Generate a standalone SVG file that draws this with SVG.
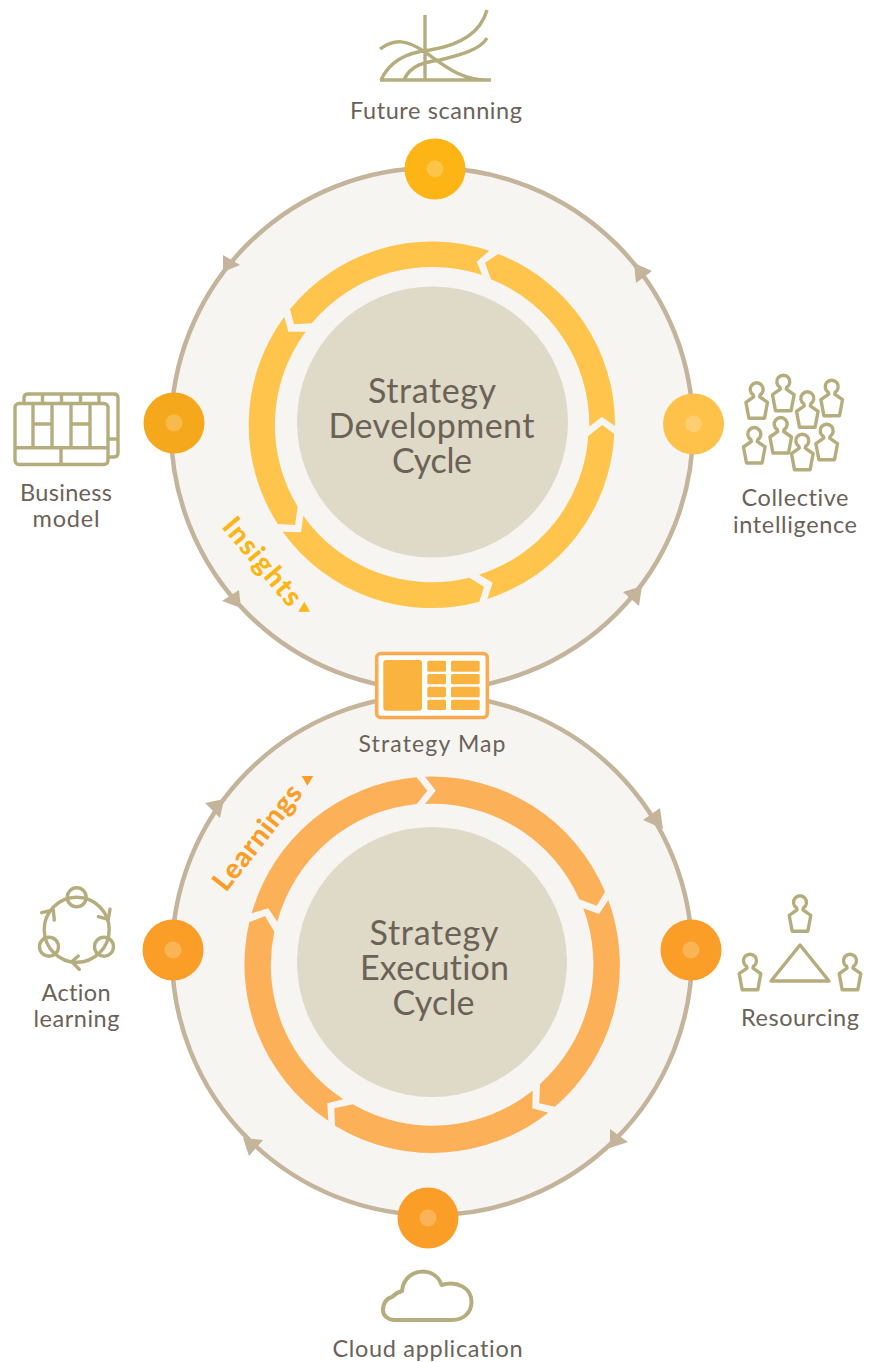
<svg xmlns="http://www.w3.org/2000/svg" width="869" height="1362" viewBox="0 0 869 1362">
<style>
text{font-family:"Lato","Open Sans","Liberation Sans",sans-serif;fill:#6b6257;text-anchor:middle;font-variant-ligatures:none}
.lbl{font-size:23.5px}
.ttl{font-size:34px}
.tag{font-size:28px;font-weight:900;text-anchor:start}
.disc{fill:#f6f5f2;stroke:#c4b49c;stroke-width:4.5}
.hub{fill:#dfd9c7}
.a{fill:#c4b49c}
.sd{fill:#fec44b}
.se{fill:#fcb057}
.dot{fill:#fff;opacity:.22}
.ic{fill:none;stroke:#b5ad7d;stroke-width:3.4;stroke-linejoin:round}
.cell{fill:#fbb33f}
</style>
<defs>
<path id="person" d="M-3.5 5.5A6.5 6.5 0 1 1 3.5 5.5L3 7.5L10.8 13L7.8 29H-7.8L-10.8 13L-3 7.500Z"/>
</defs>
<g id="cycle-discs">
<circle class="disc" cx="432" cy="429" r="261"/>
<circle class="disc" cx="432" cy="955" r="260"/>
</g>
<g id="connectors">
<polygon class="a" points="223,272 223,255 240,265"/>
<polygon class="a" points="241,608 222,601 239,590"/>
<polygon class="a" points="642,586 623,592 639,606"/>
<polygon class="a" points="634,263 652,271 636,283"/>
<polygon class="a" points="224,799 205,803 220,818"/>
<polygon class="a" points="663,829 643,820 660,808"/>
<polygon class="a" points="610,1148 610,1129 628,1142"/>
<polygon class="a" points="243,1138 263,1140 249,1156"/>
</g>
<g id="strategy-development-cycle">
<path class="sd" d="M489.3 250.7A183 183 0 0 0 290 309.3L294 324.3L311.7 323.3A157 157 0 0 1 482 275L476.7 261.7Z"/>
<path class="sd" d="M615 426A183 183 0 0 0 498.3 254L485 262.7L491 279.3A157 157 0 0 1 589.3 426.7L601.7 416.7Z"/>
<path class="sd" d="M487.3 599A183 183 0 0 0 614.3 434L602.3 425L588.3 436A157 157 0 0 1 479 574.7L492.7 582.7Z"/>
<path class="sd" d="M282.7 531.7A183 183 0 0 0 479.3 601.7L484 586.7L469.3 577.7A157 157 0 0 1 303.3 515.7L301 532.3Z"/>
<path class="sd" d="M284.3 316.7A183 183 0 0 0 277.7 524L295 525L297.7 506.7A157 157 0 0 1 305.7 331.7L288.3 331.7Z"/>
<circle class="hub" cx="432.5" cy="422" r="135.5"/>
<text class="ttl"><tspan x="432" y="403" textLength="128">Strategy</tspan><tspan x="431.5" y="438" textLength="206">Development</tspan><tspan x="432" y="473" textLength="80">Cycle</tspan></text>
</g>
<g id="strategy-execution-cycle">
<path class="se" d="M251.7 913.3A187.5 187.5 0 0 1 416.7 777.3L427.3 790.7L416.7 804A160.5 160.5 0 0 0 277.3 921.7L268.3 908.3Z"/>
<path class="se" d="M425 776.7A187.5 187.5 0 0 1 605 891.7L596.7 905.7L579.3 899.3A160.5 160.5 0 0 0 425 804L435.7 790.7Z"/>
<path class="se" d="M608.3 900A187.5 187.5 0 0 1 555 1106.7L539.3 1103.3L540 1084A160.5 160.5 0 0 0 583.3 908.3L599 914Z"/>
<path class="se" d="M548.3 1112.7A187.5 187.5 0 0 1 335 1125.7L334.3 1108.3L352.7 1104.3A160.5 160.5 0 0 0 532.7 1090.7L532.3 1108.3Z"/>
<path class="se" d="M328.3 1120.7A187.5 187.5 0 0 1 249.3 922.3L265 916L274.3 931.7A160.5 160.5 0 0 0 343.3 1099.3L327.3 1103.3Z"/>
<circle class="hub" cx="432" cy="962" r="135"/>
<text class="ttl"><tspan x="434" y="945" textLength="129">Strategy</tspan><tspan x="434.5" y="980" textLength="149">Execution</tspan><tspan x="433.5" y="1014.5" textLength="82">Cycle</tspan></text>
</g>
<g id="insights">
<text class="tag" transform="translate(221 527) rotate(50)" style="fill:#fdb515" textLength="106">Insights</text>
<polygon points="298.3,611.7 310,611.7 304.3,601.7" fill="#fdb515"/>
</g>
<g id="learnings">
<text class="tag" transform="translate(226 893) rotate(-52)" style="fill:#fa9e28" textLength="126">Learnings</text>
<polygon points="301.7,776 313.3,776 307.3,785.7" fill="#fa9e28"/>
</g>
<g id="future-scanning">
<path class="ic" d="M425 15V80M380 80H491M380 49C395 38 407 40 425 52C445 66 460 80 488 80M381 80C390 60 410 52 430 50C455 46 480 35 487 10M404 80C410 65 425 62 440 60C460 55 480 50 487 38"/>
<text class="lbl" x="436" y="119" textLength="172">Future scanning</text>
<circle cx="435" cy="169" r="30.5" fill="#fdb515"/><circle class="dot" cx="435" cy="169" r="8.5"/>
</g>
<g id="business-model">
<rect class="ic" x="15" y="403.5" width="93" height="61" rx="4"/>
<path class="ic" d="M15 447.7H108M33 403V447M52 403V447M71 403V447M90 403V447M61 447V465M33 424H52M71 424H90M24 402V398Q24 394 28 394H114Q118 394 118 398V453Q118 457 114 457H109M42.5 394V402M61.5 394V402M80.5 394V402M99 394V402M109 439H118"/>
<text class="lbl" x="66" y="501" textLength="92">Business</text>
<text class="lbl" x="66" y="527" textLength="67">model</text>
<circle cx="174" cy="423" r="30.5" fill="#f5a81c"/><circle class="dot" cx="174" cy="423" r="8.5"/>
</g>
<g id="collective-intelligence">
<g class="ic">
<use href="#person" x="756.7" y="389.3"/><use href="#person" x="783.3" y="381.7"/><use href="#person" x="807.3" y="398.3"/><use href="#person" x="831.7" y="386.7"/>
<use href="#person" x="754.3" y="434"/><use href="#person" x="780.7" y="424"/><use href="#person" x="802.3" y="440.7"/><use href="#person" x="826.7" y="430.7"/>
</g>
<text class="lbl" x="795" y="506" textLength="107">Collective</text>
<text class="lbl" x="795" y="532.5" textLength="124">intelligence</text>
<circle cx="693.5" cy="424" r="30.5" fill="#fec14a"/><circle class="dot" cx="693.5" cy="424" r="8.5"/>
</g>
<g id="strategy-map">
<rect x="376.7" y="653.5" width="110.6" height="64" rx="4" fill="#fff" stroke="#fca94f" stroke-width="3.5"/>
<rect class="cell" x="383.3" y="660" width="38.7" height="50.7" rx="3"/>
<rect class="cell" x="427.3" y="660.7" width="18.7" height="11" rx="1.5"/><rect class="cell" x="427.3" y="674" width="18.7" height="10.3" rx="1.5"/><rect class="cell" x="427.3" y="686.7" width="18.7" height="10.6" rx="1.5"/><rect class="cell" x="427.3" y="699.7" width="18.7" height="10.3" rx="1.5"/>
<rect class="cell" x="451" y="660.7" width="28.7" height="11" rx="1.5"/><rect class="cell" x="451" y="674" width="28.7" height="10.3" rx="1.5"/><rect class="cell" x="451" y="686.7" width="28.7" height="10.6" rx="1.5"/><rect class="cell" x="451" y="699.7" width="28.7" height="10.3" rx="1.5"/>
<text x="432" y="752" textLength="147" style="font-size:23px">Strategy Map</text>
</g>
<g id="action-learning">
<g class="ic">
<circle cx="76.7" cy="929.7" r="32.5"/>
<circle cx="76.7" cy="897.3" r="9.5"/><circle cx="49" cy="946.7" r="9.5"/><circle cx="104" cy="946.7" r="9.5"/>
<path stroke-linecap="round" d="M98.3 916.7L108.3 919.3L110 909.3M41.7 912.7L53.3 910L54.3 920M78.3 956L71.7 961.7L79.3 969.3"/>
</g>
<text class="lbl" x="76" y="1001" textLength="69">Action</text>
<text class="lbl" x="76.5" y="1027" textLength="86">learning</text>
<circle cx="173" cy="950" r="30.5" fill="#fa9e28"/><circle class="dot" cx="173" cy="950" r="8.5"/>
</g>
<g id="resourcing">
<g class="ic">
<use href="#person" x="800" y="902.3"/><use href="#person" x="750" y="960.7"/><use href="#person" x="850" y="960.7"/>
<path d="M800 945L771 981H829Z"/>
</g>
<text class="lbl" x="800" y="1026" textLength="118">Resourcing</text>
<circle cx="691" cy="950" r="30.5" fill="#fa9e28"/><circle class="dot" cx="691" cy="950" r="8.5"/>
</g>
<g id="cloud-application">
<circle cx="428" cy="1218" r="30.5" fill="#fa9e28"/><circle class="dot" cx="428" cy="1218" r="8.5"/>
<path class="ic" style="stroke-width:4" d="M395 1320C387 1320 383 1315 383 1310C383 1303 387 1298 392 1297C395 1294 398 1292 402 1291C403 1279 412 1271.5 423 1271.5C432 1271.5 439 1277 441.5 1285C457 1280 471.5 1288 471.5 1302C471.5 1313 463 1320 452 1320Z"/>
<text class="lbl" x="427.5" y="1357" textLength="190">Cloud application</text>
</g>
</svg>
